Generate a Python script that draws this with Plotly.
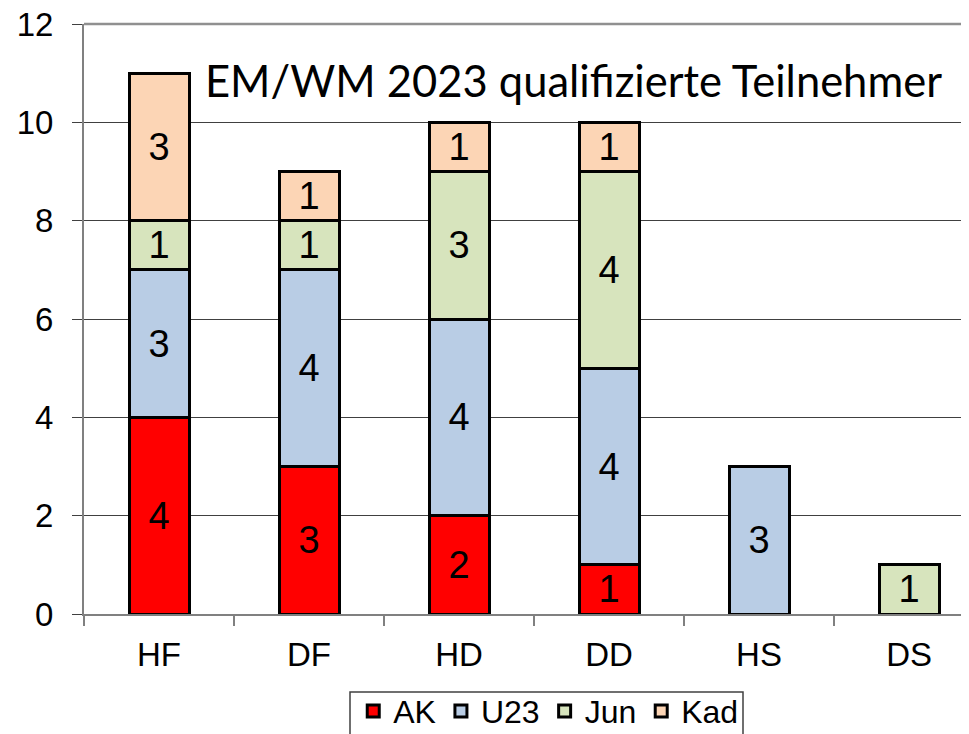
import plotly.graph_objects as go

categories = ["HF", "DF", "HD", "DD", "HS", "DS"]
ak = [4, 3, 2, 1, 0, 0]
u23 = [3, 4, 4, 4, 3, 0]
jun = [1, 1, 3, 4, 0, 1]
kad = [3, 1, 1, 1, 0, 0]
series_names = ["AK", "U23", "Jun", "Kad"]
series_values = [ak, u23, jun, kad]
colors = ["#FF0000", "#B9CDE5", "#D7E4BD", "#FCD5B5"]
y_ticks = [0, 2, 4, 6, 8, 10, 12]
title_text = "EM/WM 2023 qualifizierte Teilnehmer"

fig = go.Figure()
for name, vals, col in zip(series_names, series_values, colors):
    fig.add_trace(go.Bar(
        x=categories,
        y=[v if v else None for v in vals],
        name=name,
        marker=dict(color=col, line=dict(color="black", width=3)),
        width=0.4,
        text=[str(v) if v else "" for v in vals],
        textposition="inside",
        insidetextanchor="middle",
        textangle=0,
        textfont=dict(family="Liberation Sans, Arial", size=38, color="black"),
        constraintext="none",
    ))

fig.update_layout(
    barmode="stack",
    width=969, height=734,
    margin=dict(l=76, r=0, t=16, b=128, autoexpand=False),
    plot_bgcolor="white",
    paper_bgcolor="white",
    font=dict(family="Liberation Sans, Arial", size=33, color="black"),
    showlegend=True,
    legend=dict(
        orientation="h",
        x=0.3015, xanchor="left",
        y=-0.118, yanchor="top",
        bgcolor="rgba(0,0,0,0)",
        borderwidth=0,
        font=dict(size=32),
        itemwidth=30,
        traceorder="normal",
    ),
    xaxis=dict(
        range=[-0.5, 5.453],
        showline=True, linecolor="#808080", linewidth=2,
        ticks="outside", tickson="boundaries", ticklen=10, tickcolor="#808080", tickwidth=1.5,
        tickfont=dict(size=33),
        ticklabelstandoff=10,
        showgrid=False,
        zeroline=False,
    ),
    yaxis=dict(
        range=[0, 12],
        tickvals=y_ticks,
        showline=True, linecolor="#808080", linewidth=2,
        ticks="outside", ticklen=10, tickcolor="#404040", tickwidth=1,
        tickfont=dict(size=33),
        ticklabelstandoff=12,
        ticklabeloverflow="allow",
        showgrid=True, gridcolor="#404040", gridwidth=1,
        zeroline=False,
    ),
    annotations=[dict(
        text=title_text,
        xref="paper", yref="paper",
        x=0.5476, y=0.905,
        xanchor="center", yanchor="middle",
        showarrow=False,
        font=dict(family="Lato, Open Sans", size=43.5, color="black"),
    )],
)
# top frame line of the plot area
fig.add_shape(type="line", xref="paper", yref="paper", x0=0, x1=1, y0=1, y1=1,
              line=dict(color="#909090", width=2.5))
# legend frame (bottom edge runs off the page, as in the reference)
fig.add_shape(type="rect", xref="paper", yref="paper",
              x0=(342 - 76) / 893, x1=(735 - 76) / 893,
              y0=-0.30, y1=(606 - 684) / 590,
              line=dict(color="#404040", width=1.5), fillcolor="rgba(0,0,0,0)")

fig.write_html("out.html")
